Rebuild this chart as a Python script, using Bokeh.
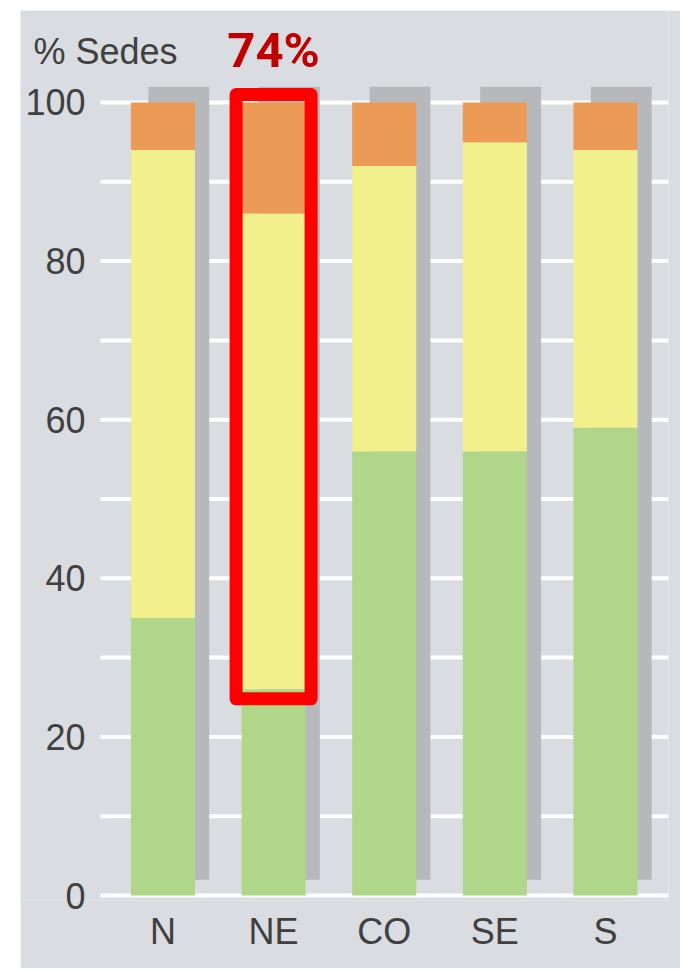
from bokeh.plotting import figure
from bokeh.models import FixedTicker, Label, ColumnDataSource, Range1d
from bokeh.transform import dodge
from bokeh.embed import file_html
from bokeh.resources import INLINE

# ---- data ----
regions = ["N", "NE", "CO", "SE", "S"]
green = [35, 26, 56, 56, 59]
yellow = [59, 60, 36, 39, 35]
orange = [6, 14, 8, 5, 6]
y_ticks = [0, 20, 40, 60, 80, 100]
grid_ticks = [0, 10, 20, 30, 40, 50, 60, 70, 80, 90, 100]
highlight = "NE"
y_title = "% Sedes"

# ---- styles ----
BG = "#d9dce0"
C_GREEN = "#afd689"
C_YELLOW = "#f2ef8d"
C_ORANGE = "#ec9b57"
C_SHADOW = "#b6b8bc"
C_TEXT = "#404040"
FONT = "Liberation Sans"

idx = list(range(len(regions)))
totals = [g + y + o for g, y, o in zip(green, yellow, orange)]
shadow_shift = 2
src = ColumnDataSource(dict(
    x=idx, green=green, yellow=yellow, orange=orange,
    sb=[shadow_shift] * len(idx), st=[t + shadow_shift for t in totals],
))
X0, X1 = -1.288, 4.570      # plotting frame spans the whole grey panel
GRID_X0 = -0.565            # grid lines start right of the tick labels

W, H = 660, 958
p = figure(width=W, height=H, output_backend="svg", toolbar_location=None,
           x_range=Range1d(X0, X1), y_range=Range1d(-0.63, 111.6),
           min_border_left=0, min_border_right=12, min_border_top=0,
           min_border_bottom=68, margin=(10, 0, 0, 20),
           background_fill_color=BG, border_fill_color=BG,
           outline_line_color=None)

# grid lines (drawn as segments so they start right of the labels)
grid_src = ColumnDataSource(dict(y=grid_ticks,
                                 x0=[GRID_X0] * len(grid_ticks),
                                 x1=[X1] * len(grid_ticks)))
p.segment(x0="x0", x1="x1", y0="y", y1="y", source=grid_src,
          line_color="white", line_width=4, level="underlay")

# shadows
p.vbar(x=dodge("x", 0.143), width=0.55, bottom="sb", top="st", source=src,
       fill_color=C_SHADOW, line_color=None)

# stacked bars
p.vbar_stack(["green", "yellow", "orange"], x="x", width=0.579, source=src,
             fill_color=[C_GREEN, C_YELLOW, C_ORANGE], line_color=None)

# highlight box
hi = regions.index(highlight)
p.quad(left=[hi - 0.339], right=[hi + 0.339], bottom=[green[hi] - 1.2],
       top=[totals[hi] + 1.0], fill_color=None, line_color="#ff0000",
       line_width=13, line_join="round")

p.add_layout(Label(x=hi, y=totals[hi] + 6.6, text=f"{totals[hi] - green[hi]}%",
                   text_font="Roboto", text_font_style="bold",
                   text_font_size="49px", text_color="#c00000",
                   text_align="center", text_baseline="alphabetic"))

p.add_layout(Label(x=-1.171, y=max(y_ticks) + 6.4, text=y_title,
                   text_font=FONT, text_font_size="36px",
                   text_color=C_TEXT, text_align="left",
                   text_baseline="alphabetic"))

# built-in grids off
p.xgrid.grid_line_color = None
p.ygrid.grid_line_color = None

# axes
p.yaxis.ticker = FixedTicker(ticks=y_ticks)
p.xaxis.ticker = FixedTicker(ticks=idx)
p.xaxis.major_label_overrides = {i: r for i, r in zip(idx, regions)}
for ax in (p.xaxis[0], p.yaxis[0]):
    ax.axis_line_color = None
    ax.major_tick_line_color = None
    ax.minor_tick_line_color = None
    ax.major_tick_in = 0
    ax.major_tick_out = 0
    ax.major_label_text_font = FONT
    ax.major_label_text_font_size = "36px"
    ax.major_label_text_color = C_TEXT
p.yaxis.major_label_standoff = -65
p.xaxis.major_label_standoff = 10

open("out.html", "w").write(file_html(p, INLINE))
